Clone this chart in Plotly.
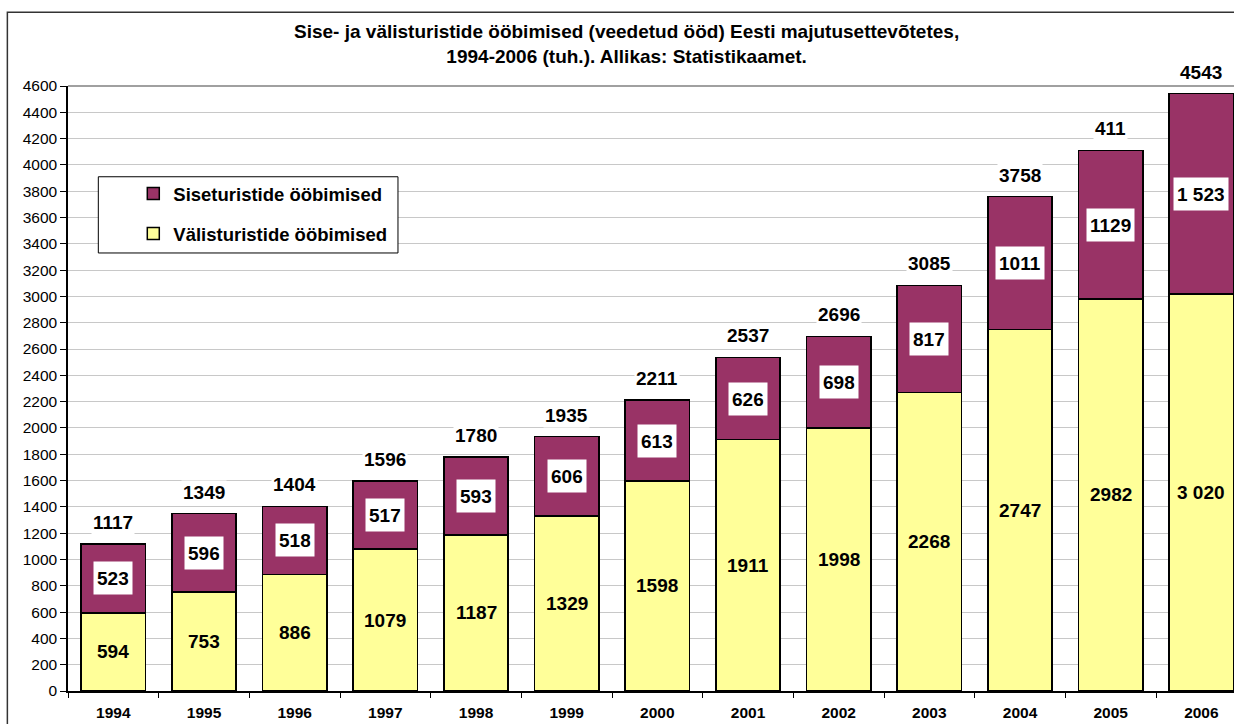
import plotly.graph_objects as go

years = ["1994", "1995", "1996", "1997", "1998", "1999", "2000",
         "2001", "2002", "2003", "2004", "2005", "2006"]
valis = [594, 753, 886, 1079, 1187, 1329, 1598, 1911, 1998, 2268, 2747, 2982, 3020]
sise = [523, 596, 518, 517, 593, 606, 613, 626, 698, 817, 1011, 1129, 1523]
valis_labels = ["594", "753", "886", "1079", "1187", "1329", "1598",
                "1911", "1998", "2268", "2747", "2982", "3 020"]
sise_labels = ["523", "596", "518", "517", "593", "606", "613",
               "626", "698", "817", "1011", "1129", "1 523"]
total_labels = ["1117", "1349", "1404", "1596", "1780", "1935", "2211",
                "2537", "2696", "3085", "3758", "411", "4543"]

FONT = "Liberation Sans, Arial, sans-serif"
PURPLE = "#993366"
YELLOW = "#FFFF99"

fig = go.Figure()
fig.add_trace(go.Bar(
    x=years, y=valis, name="<b>Välisturistide ööbimised</b>",
    marker=dict(color=YELLOW, line=dict(color="black", width=1.5)),
    legendgroup="v", legendrank=2,
))
fig.add_trace(go.Bar(
    x=years, y=sise, name="<b>Siseturistide ööbimised</b>",
    marker=dict(color=PURPLE, line=dict(color="black", width=1.5)),
    legendgroup="s", legendrank=1,
))

annotations = []
for i, (v, s, vl, sl, tl) in enumerate(zip(valis, sise, valis_labels, sise_labels, total_labels)):
    annotations.append(dict(x=i, y=v / 2, text=f"<b>{vl}</b>", showarrow=False,
                            font=dict(size=19, color="black", family=FONT)))
    annotations.append(dict(x=i, y=v + s / 2, text=f"<b>{sl}</b>", showarrow=False,
                            bgcolor="white", borderpad=3, height=26,
                            font=dict(size=19, color="black", family=FONT)))
    annotations.append(dict(x=i, y=v + s, text=f"<b>{tl}</b>", showarrow=False,
                            yanchor="bottom", yshift=9, bgcolor="white", borderpad=1,
                            font=dict(size=19, color="black", family=FONT)))

annotations.append(dict(
    xref="paper", yref="paper", x=0.479, y=1.069, yanchor="middle", showarrow=False,
    text="<b>Sise- ja välisturistide ööbimised (veedetud ööd) Eesti majutusettevõtetes,<br>"
         "1994-2006 (tuh.). Allikas: Statistikaamet.</b>",
    font=dict(size=19, color="black", family=FONT),
))

fig.update_layout(
    width=1234, height=724,
    barmode="stack", bargap=0.29,
    plot_bgcolor="white", paper_bgcolor="white",
    margin=dict(l=68, r=0, t=86, b=33, autoexpand=False),
    font=dict(family=FONT, color="black"),
    annotations=annotations,
    showlegend=True,
    legend=dict(
        x=0.056, y=0.853, xanchor="left", yanchor="top",
        traceorder="grouped", tracegroupgap=13,
        bgcolor="rgba(0,0,0,0)",
        font=dict(size=18.5, family=FONT, color="black"),
        itemclick=False,
    ),
    shapes=[
        # outer chart frame
        dict(type="rect", xref="paper", yref="paper", x0=-0.052, x1=1.02, y0=-0.2, y1=1.122,
             line=dict(color="#333333", width=1.5), layer="below"),
        # top border of plot area
        dict(type="line", xref="paper", yref="paper", x0=0, x1=1, y0=1, y1=1,
             line=dict(color="#808080", width=1.5)),
        # legend box
        dict(type="rect", xref="paper", yref="paper", x0=0.026, x1=0.283, y0=0.724, y1=0.850,
             fillcolor="white", line=dict(color="black", width=1)),
    ],
)

fig.update_yaxes(
    range=[0, 4600], dtick=200, showgrid=True, gridcolor="#C8C8C8", gridwidth=1,
    showline=True, linecolor="black", linewidth=1.5,
    ticks="outside", ticklen=6, tickcolor="black",
    tickfont=dict(size=15.5, family=FONT, color="black"),
    zeroline=False,
)
fig.update_xaxes(
    type="category", range=[-0.5, 12.36],
    showline=True, linecolor="black", linewidth=1.5,
    ticks="outside", ticklen=5, tickcolor="black", tickson="boundaries",
    tickfont=dict(size=15.5, family=FONT, color="black"),
    tickprefix="<b>", ticksuffix="</b>", ticklabelstandoff=7,
)

fig.write_html(
    "out.html",
    config={"displayModeBar": False},
    post_script="document.body.style.margin='0';document.body.style.overflow='hidden';",
)
